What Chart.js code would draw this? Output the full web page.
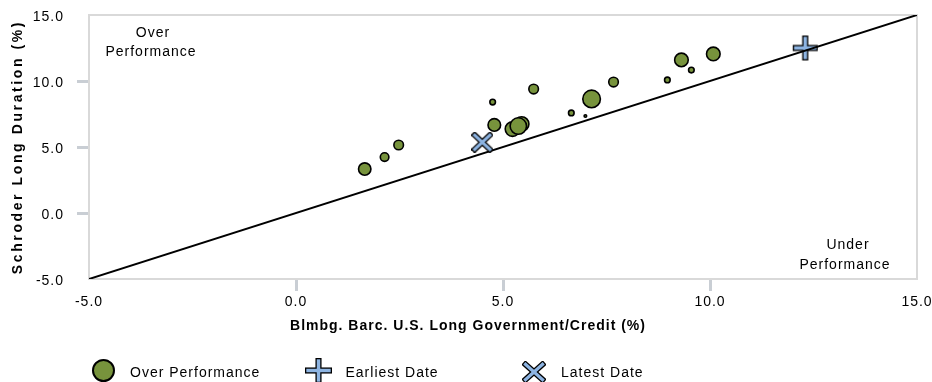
<!DOCTYPE html>
<html><head><meta charset="utf-8">
<script src="https://cdn.jsdelivr.net/npm/chart.js@4"></script>
<style>html,body{margin:0;padding:0;background:#fff}</style>
</head><body>
<canvas id="c" width="932" height="382"></canvas>
<script>
// ---- data ----
const benchmarkReturns = [1.66, 2.14, 2.48, 4.75, 4.79, 5.45, 5.23, 5.37, 5.74, 6.65, 6.99, 7.14, 7.67, 8.97, 9.31, 9.55, 10.08];
const portfolioReturns = [3.33, 4.24, 5.15, 8.40, 6.67, 6.74, 6.36, 6.59, 9.39, 7.58, 7.35, 8.64, 9.92, 10.08, 11.60, 10.83, 12.05];
const bubbleSizes      = [6.2, 4.3, 4.8, 2.8, 6.3, 7.3, 7.3, 8.2, 4.8, 2.8, 1.3, 8.8, 4.8, 2.8, 6.8, 2.8, 6.8];
const earliestPoint = [12.30, 12.50];
const latestPoint = [4.50, 5.36];
const refLineEnds = [-5, 15];
const axisTicks = [-5, 0, 5, 10, 15];
const seriesNames = ['Over Performance', 'Earliest Date', 'Latest Date'];
const xTitle = 'Blmbg. Barc. U.S. Long Government/Credit (%)';
const yTitle = 'Schroder Long Duration (%)';
const overLabel = ['Over', 'Performance'];
const underLabel = ['Under', 'Performance'];

// ---- styles ----
const GREEN = '#77933c', BLUE = '#8db4e2', FONT = "'Liberation Sans', Arial, sans-serif";

function makeCross(kind, W, H, inner, edge) {
  const c = document.createElement('canvas');
  c.width = Math.ceil(W) + 2; c.height = Math.ceil(H) + 2;
  const g = c.getContext('2d');
  g.translate(c.width / 2, c.height / 2);
  const w = W - 2 * edge, h = H - 2 * edge;
  const segs = kind === 'plus'
    ? [[-w/2, 0, w/2, 0], [0, -h/2, 0, h/2]]
    : [[-w/2, -h/2, w/2, h/2], [-w/2, h/2, w/2, -h/2]];
  const draw = ext => segs.forEach(([x1, y1, x2, y2]) => {
    const dx = x2 - x1, dy = y2 - y1, L = Math.hypot(dx, dy), ux = dx / L * ext, uy = dy / L * ext;
    g.beginPath(); g.moveTo(x1 - ux, y1 - uy); g.lineTo(x2 + ux, y2 + uy); g.stroke();
  });
  g.lineCap = 'butt';
  g.strokeStyle = '#000'; g.lineWidth = inner + 2 * edge; draw(edge);
  g.strokeStyle = BLUE; g.lineWidth = inner; draw(0);
  return c;
}
function makeDot(r) {
  const c = document.createElement('canvas');
  c.width = c.height = Math.ceil(2 * r + 4);
  const g = c.getContext('2d');
  g.beginPath(); g.arc(c.width / 2, c.height / 2, r, 0, Math.PI * 2);
  g.fillStyle = GREEN; g.fill(); g.lineWidth = 2; g.strokeStyle = '#000'; g.stroke();
  return c;
}
const plusImg = makeCross('plus', 25, 25, 3.5, 1.3);
const xImg = makeCross('x', 20, 19, 3.2, 1.3);
const legendImgs = [makeDot(10.5), makeCross('plus', 27, 25, 3.5, 1.3), makeCross('x', 22, 20, 3.2, 1.3)];

Chart.defaults.font.family = FONT;
Chart.defaults.font.size = 14;
Chart.defaults.color = '#000';

const decor = {
  id: 'decor',
  beforeUpdate(chart) { chart.ctx.letterSpacing = '1px'; },
  beforeDraw(chart) { chart.ctx.letterSpacing = '1px'; },
  beforeDatasetsDraw(chart) {
    const { ctx, chartArea: a } = chart;
    ctx.save();
    ctx.strokeStyle = '#d9d9d9'; ctx.lineWidth = 2;
    ctx.strokeRect(a.left, a.top, a.right - a.left, a.bottom - a.top);
    ctx.restore();
  },
  afterDraw(chart) {
    const { ctx, chartArea: a } = chart;
    ctx.save();
    ctx.fillStyle = '#000';
    ctx.textBaseline = 'middle';
    ctx.textAlign = 'center';
    ctx.font = '14px ' + FONT;
    ctx.letterSpacing = '1px';
    ctx.fillText(overLabel[0], 153, 33);
    ctx.fillText(overLabel[1], 151, 52);
    ctx.fillText(underLabel[0], 848, 245);
    ctx.fillText(underLabel[1], 845, 265);
    // x title
    ctx.font = 'bold 14px ' + FONT;
    ctx.fillText(xTitle, 468, 326);
    // y title
    ctx.save();
    ctx.translate(18, (a.top + a.bottom) / 2);
    ctx.rotate(-Math.PI / 2);
    ctx.letterSpacing = '2.6px';
    ctx.fillText(yTitle, 0, 0);
    ctx.restore();
    // legend
    ctx.font = '14px ' + FONT;
    ctx.textAlign = 'left';
    ctx.letterSpacing = '1px';
    const markerY = [370, 370, 372];
    seriesNames.forEach((name, i) => {
      const x0 = 91 + i * 215.5;
      const img = legendImgs[i];
      ctx.drawImage(img, Math.round(x0 + 12 - img.width / 2), Math.round(markerY[i] - img.height / 2));
      ctx.fillText(name, x0 + 39, 373);
    });
    ctx.restore();
  }
};

const tickColor = c => (c.tick && (c.tick.value === axisTicks[0] || c.tick.value === axisTicks[axisTicks.length - 1])) ? 'rgba(0,0,0,0)' : '#c9ced4';
const zeroPad = s => { s.paddingTop = 0; s.paddingBottom = 0; s.paddingLeft = 0; s.paddingRight = 0; };

new Chart(document.getElementById('c'), {
  type: 'scatter',
  data: {
    datasets: [
      {
        type: 'bubble', label: seriesNames[0], order: 3,
        data: benchmarkReturns.map((x, i) => ({ x, y: portfolioReturns[i], r: bubbleSizes[i] })),
        backgroundColor: GREEN, borderColor: '#000', borderWidth: 1.6
      },
      {
        type: 'scatter', label: 'Reference', order: 1, showLine: true,
        data: refLineEnds.map(v => ({ x: v, y: v })),
        borderColor: '#000', borderWidth: 2, pointRadius: 0
      },
      {
        label: seriesNames[1], order: 2,
        data: [{ x: earliestPoint[0], y: earliestPoint[1] }],
        pointStyle: plusImg, pointRadius: 12
      },
      {
        label: seriesNames[2], order: 0,
        data: [{ x: latestPoint[0], y: latestPoint[1] }],
        pointStyle: xImg, pointRadius: 10
      }
    ]
  },
  options: {
    responsive: false, devicePixelRatio: 1, animation: false,
    layout: { padding: { left: 0, right: 15, top: 15, bottom: 0 } },
    plugins: { legend: { display: false }, tooltip: { enabled: false } },
    scales: {
      x: {
        type: 'linear', min: axisTicks[0], max: axisTicks[axisTicks.length - 1],
        afterBuildTicks: s => { s.ticks = axisTicks.map(v => ({ value: v })); },
        afterFit: s => { s.height = 103; zeroPad(s); },
        ticks: { padding: 3, callback: v => v.toFixed(1), font: { size: 14 }, color: '#000', maxRotation: 0 },
        grid: { drawOnChartArea: false, drawTicks: true, tickLength: 12, tickWidth: 3, tickColor },
        border: { display: true, color: '#d9d9d9', width: 2 }
      },
      y: {
        type: 'linear', min: axisTicks[0], max: axisTicks[axisTicks.length - 1],
        afterBuildTicks: s => { s.ticks = axisTicks.map(v => ({ value: v })); },
        afterFit: s => { s.width = 89; zeroPad(s); },
        ticks: { padding: 13, labelOffset: 2, callback: v => v.toFixed(1), font: { size: 14 }, color: '#000' },
        grid: { drawOnChartArea: false, drawTicks: true, tickLength: 12, tickWidth: 3, tickColor },
        border: { display: true, color: '#d9d9d9', width: 2 }
      }
    }
  },
  plugins: [decor]
});
</script>
</body></html>
